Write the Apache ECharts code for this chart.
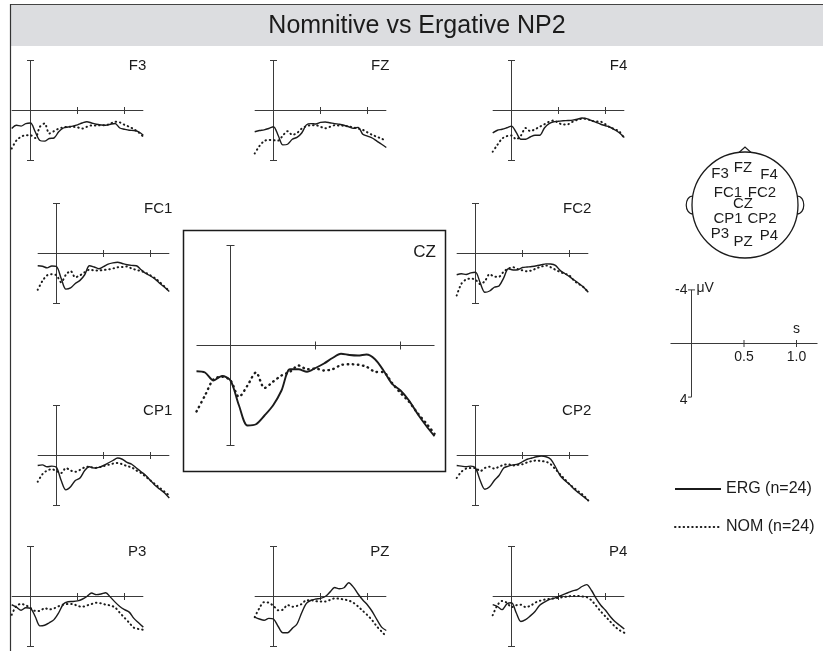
<!DOCTYPE html>
<html>
<head>
<meta charset="utf-8">
<script src="https://cdn.jsdelivr.net/npm/echarts@6/dist/echarts.min.js"></script>
<style>
  html, body { margin: 0; padding: 0; background: #fff; }
  #chart { width: 823px; height: 651px; }
</style>
</head>
<body>
<div id="chart"></div>
<script>
// ---- data: grand-average ERPs (µV), negative plotted up ----
const times = [-0.2, -0.15, -0.1, -0.05, 0, 0.05, 0.1, 0.15, 0.2, 0.25, 0.3, 0.35, 0.4, 0.45, 0.5,
               0.55, 0.6, 0.65, 0.7, 0.75, 0.8, 0.85, 0.9, 0.95, 1.0, 1.05, 1.1, 1.15, 1.2];

const ergF3  = [1.44, 1.18, 1.25, 1.05, 1.0, 1.7, 2.4, 2.45, 2.24, 2.2, 1.7, 1.4, 1.32, 1.25, 1.15, 1.0, 0.9, 1.0, 1.1, 1.15, 1.18, 1.1, 1.04, 1.4, 1.5, 1.58, 1.6, 1.7, 1.98];
const nomF3  = [3.04, 2.4, 2.1, 1.98, 1.98, 2.2, 1.3, 1.04, 1.84, 1.65, 1.45, 1.35, 1.3, 1.3, 1.35, 1.44, 1.3, 1.2, 1.2, 1.18, 1.18, 1.05, 0.9, 0.95, 1.15, 1.3, 1.5, 1.75, 2.1];
const ergFZ  = [1.7, 1.6, 1.55, 1.44, 1.3, 2.0, 2.75, 2.7, 2.3, 2.15, 1.8, 1.15, 1.05, 1.08, 0.95, 0.92, 0.98, 1.05, 1.1, 1.18, 1.3, 1.42, 1.35, 1.9, 2.05, 2.2, 2.45, 2.7, 2.96];
const nomFZ  = [3.44, 2.85, 2.45, 2.35, 2.38, 2.4, 2.0, 1.65, 1.95, 1.8, 1.45, 1.25, 1.18, 1.18, 1.3, 1.42, 1.3, 1.18, 1.2, 1.22, 1.28, 1.35, 1.45, 1.55, 1.75, 1.95, 2.1, 2.25, 2.43];
const ergF4  = [1.79, 1.58, 1.5, 1.38, 1.25, 1.75, 2.3, 2.3, 2.12, 1.98, 1.98, 1.4, 1.05, 0.9, 0.86, 0.82, 0.8, 0.77, 0.7, 0.6, 0.65, 0.8, 0.95, 1.1, 1.22, 1.34, 1.55, 1.8, 2.16];
const nomF4  = [3.3, 2.75, 2.25, 2.05, 2.0, 2.3, 2.0, 1.4, 1.65, 1.5, 1.3, 1.1, 0.9, 0.8, 1.0, 1.12, 1.1, 0.9, 0.75, 0.66, 0.68, 0.82, 0.88, 0.9, 1.1, 1.36, 1.5, 1.7, 2.24];
const ergFC1 = [0.98, 1.02, 1.15, 1.0, 1.04, 2.0, 2.85, 2.75, 2.4, 2.15, 1.7, 0.98, 1.08, 1.22, 1.05, 0.85, 0.75, 0.7, 0.8, 0.9, 0.95, 0.98, 1.3, 1.6, 1.8, 2.05, 2.4, 2.7, 3.04];
const nomFC1 = [2.9, 2.2, 1.75, 1.65, 1.75, 2.3, 1.7, 1.4, 1.9, 1.75, 1.5, 1.3, 1.35, 1.36, 1.32, 1.28, 1.2, 1.1, 1.08, 1.04, 1.2, 1.32, 1.4, 1.55, 1.75, 1.98, 2.3, 2.65, 3.0];
const ergFC2 = [1.7, 1.62, 1.68, 1.55, 1.5, 2.35, 3.1, 3.0, 2.7, 2.6, 1.95, 1.22, 1.32, 1.3, 1.12, 1.08, 1.04, 0.98, 0.9, 0.83, 0.84, 0.95, 1.35, 1.6, 1.85, 2.12, 2.4, 2.7, 3.1];
const nomFC2 = [3.36, 2.42, 2.08, 2.0, 2.1, 2.45, 2.2, 1.65, 1.85, 1.85, 1.45, 1.2, 1.1, 1.25, 1.35, 1.42, 1.35, 1.18, 1.05, 0.96, 1.1, 1.3, 1.48, 1.62, 1.76, 2.18, 2.45, 2.7, 3.1];
const ergCZ  = [1.03, 1.08, 1.4, 1.22, 1.4, 2.4, 3.2, 3.15, 2.8, 2.4, 1.8, 0.95, 0.95, 1.05, 0.9, 0.72, 0.5, 0.33, 0.38, 0.4, 0.36, 0.55, 1.0, 1.53, 1.8, 2.2, 2.73, 3.2, 3.63];
const nomCZ  = [2.64, 2.0, 1.35, 1.25, 1.4, 2.05, 1.6, 1.08, 1.7, 1.45, 1.2, 1.05, 0.8, 0.95, 0.92, 1.0, 0.95, 0.78, 0.75, 0.77, 0.85, 1.05, 1.07, 1.5, 1.9, 2.25, 2.7, 3.1, 3.53];
const ergCP1 = [0.8, 0.75, 0.9, 0.85, 0.95, 2.0, 2.75, 2.5, 2.0, 1.8, 1.2, 0.9, 1.0, 0.95, 0.8, 0.6, 0.4, 0.2, 0.3, 0.55, 0.7, 1.0, 1.3, 1.6, 2.0, 2.4, 2.7, 3.0, 3.4];
const nomCP1 = [2.1, 1.5, 1.2, 1.1, 1.25, 1.4, 1.0, 1.2, 1.3, 1.15, 0.95, 0.9, 1.0, 0.95, 0.85, 0.75, 0.65, 0.6, 0.7, 0.85, 0.95, 1.2, 1.4, 1.7, 2.0, 2.3, 2.6, 2.9, 3.2];
const ergCP2 = [0.8, 0.85, 0.9, 0.85, 1.0, 2.0, 2.7, 2.5, 2.0, 1.6, 1.0, 0.85, 0.75, 0.7, 0.5, 0.3, 0.2, 0.1, 0.05, 0.1, 0.3, 0.9, 1.6, 2.0, 2.3, 2.7, 3.0, 3.3, 3.6];
const nomCP2 = [1.8, 1.3, 1.05, 1.0, 1.0, 1.25, 1.0, 0.9, 1.05, 0.9, 0.75, 0.7, 0.8, 0.75, 0.7, 0.55, 0.45, 0.4, 0.45, 0.5, 0.7, 1.1, 1.5, 1.9, 2.3, 2.6, 2.9, 3.2, 3.6];
const ergP3  = [0.66, 0.85, 1.1, 0.9, 0.95, 1.6, 2.35, 2.3, 2.1, 1.85, 1.3, 0.6, 0.42, 0.4, 0.35, 0.22, 0.0, -0.28, -0.15, -0.2, -0.3, 0.05, 0.45, 0.8, 1.05, 1.25, 1.75, 2.1, 2.45];
const nomP3  = [1.46, 0.75, 0.6, 0.7, 0.92, 1.15, 1.15, 0.93, 1.03, 0.95, 0.78, 0.65, 0.6, 0.6, 0.75, 0.82, 0.72, 0.6, 0.5, 0.55, 0.65, 0.72, 0.88, 1.3, 1.7, 2.1, 2.5, 2.6, 2.66];
const ergPZ  = [1.65, 1.8, 1.9, 1.75, 1.8, 2.4, 2.9, 2.9, 2.55, 2.2, 1.3, 0.55, 0.3, 0.2, 0.15, 0.0, -0.35, -0.72, -0.62, -0.7, -1.1, -0.75, -0.2, 0.28, 0.68, 1.2, 1.85, 2.45, 2.72];
const nomPZ  = [1.65, 0.93, 0.45, 0.5, 0.75, 1.1, 1.05, 0.68, 0.82, 0.75, 0.6, 0.3, 0.3, 0.38, 0.4, 0.4, 0.28, 0.15, 0.18, 0.24, 0.32, 0.5, 0.8, 1.15, 1.5, 1.9, 2.4, 2.8, 3.2];
const ergP4  = [0.65, 0.8, 1.05, 0.6, 0.5, 1.3, 2.0, 1.85, 1.55, 1.2, 0.7, 0.45, 0.25, 0.15, 0.0, -0.15, -0.3, -0.45, -0.55, -0.8, -0.95, -0.5, 0.15, 0.7, 1.1, 1.6, 2.0, 2.3, 2.6];
const nomP4  = [1.5, 0.7, 0.35, 0.5, 0.85, 0.7, 0.65, 0.85, 0.75, 0.5, 0.35, 0.25, 0.2, 0.15, 0.1, 0.05, 0.0, -0.05, -0.05, 0.0, 0.05, 0.3, 0.75, 1.2, 1.6, 2.0, 2.4, 2.7, 2.9];

// axis extents and tick marks (s, µV)
const timeRange = [-0.2, 1.2];
const voltRange = [-4, 4];
const timeTicks = [0.5, 1.0];
const scaleTimeLabels = ['0.5', '1.0'];
const scaleVoltLabels = ['-4', '4'];

const titleText = 'Nomnitive vs Ergative NP2';
const ergName = 'ERG (n=24)';
const nomName = 'NOM (n=24)';
const headLabels = ['F3', 'FZ', 'F4', 'FC1', 'FC2', 'CZ', 'CP1', 'CP2', 'P3', 'PZ', 'P4'];

// ---- layout ----
const FONT = '"Liberation Sans", Arial, Helvetica, sans-serif';
const INK = '#1b1b1b';
const AXIS = '#3a3a3a';

// x0/y0: pixel position of (t = 0, v = 0); pxs: px per second; pxv: px per µV
const panels = [
  { name: 'F3',  erg: ergF3,  nom: nomF3,  x0: 30.5,  y0: 110.5, pxs: 94, pxv: 12.5 },
  { name: 'FZ',  erg: ergFZ,  nom: nomFZ,  x0: 273.5, y0: 110.5, pxs: 94, pxv: 12.5 },
  { name: 'F4',  erg: ergF4,  nom: nomF4,  x0: 511.5, y0: 110.5, pxs: 94, pxv: 12.5 },
  { name: 'FC1', erg: ergFC1, nom: nomFC1, x0: 56.5,  y0: 253.5, pxs: 94, pxv: 12.5 },
  { name: 'FC2', erg: ergFC2, nom: nomFC2, x0: 475.5, y0: 253.5, pxs: 94, pxv: 12.5 },
  { name: 'CP1', erg: ergCP1, nom: nomCP1, x0: 56.5,  y0: 455.5, pxs: 94, pxv: 12.5 },
  { name: 'CP2', erg: ergCP2, nom: nomCP2, x0: 475.5, y0: 455.5, pxs: 94, pxv: 12.5 },
  { name: 'P3',  erg: ergP3,  nom: nomP3,  x0: 30.5,  y0: 596.5, pxs: 94, pxv: 12.5 },
  { name: 'PZ',  erg: ergPZ,  nom: nomPZ,  x0: 273.5, y0: 596.5, pxs: 94, pxv: 12.5 },
  { name: 'P4',  erg: ergP4,  nom: nomP4,  x0: 511.5, y0: 596.5, pxs: 94, pxv: 12.5 },
  { name: 'CZ',  erg: ergCZ,  nom: nomCZ,  x0: 230.5, y0: 345.5, pxs: 170, pxv: 25, big: true }
];
const scaleBar = { x0: 691.5, y0: 343.5, pxs: 105, pxv: 13.4 };

function gridFor(p) {
  return {
    left: p.x0 + timeRange[0] * p.pxs,
    top: p.y0 + voltRange[0] * p.pxv,
    width: (timeRange[1] - timeRange[0]) * p.pxs,
    height: (voltRange[1] - voltRange[0]) * p.pxv,
    containLabel: false
  };
}

function axesRenderer(opts) {
  return function (params, api) {
    const st = { stroke: AXIS, lineWidth: 1, fill: null };
    const L = (x1, y1, x2, y2) => ({ type: 'line', shape: { x1, y1, x2, y2 }, style: st });
    const h0 = api.coord([timeRange[0], 0]);
    const h1 = api.coord([timeRange[1], 0]);
    const vT = api.coord([0, voltRange[0]]);
    const vB = api.coord([0, voltRange[1]]);
    const ch = [
      L(h0[0], h0[1], h1[0], h1[1]),
      L(vT[0], vT[1], vB[0], vB[1]),
      L(vT[0] - opts.cap, vT[1], vT[0] + opts.cap, vT[1]),
      L(vB[0] - opts.cap, vB[1], vB[0] + (opts.capRight ?? opts.cap), vB[1])
    ];
    timeTicks.forEach(t => {
      const p = api.coord([t, 0]);
      ch.push(L(p[0], p[1] - opts.tick, p[0], p[1] + opts.tick));
    });
    if (opts.labels) {
      const txt = (text, x, y, align, vAlign) => ({
        type: 'text', x, y,
        style: { text, font: '14px ' + FONT, fill: INK, align, verticalAlign: vAlign }
      });
      ch.push(txt(scaleVoltLabels[0], vT[0] - 4, vT[1], 'right', 'middle'));
      ch.push(txt('\u03BCV', vT[0] + 5, vT[1] - 2, 'left', 'middle'));
      ch.push(txt(scaleVoltLabels[1], vB[0] - 4, vB[1] + 3, 'right', 'middle'));
      timeTicks.forEach((t, i) => {
        const p = api.coord([t, 0]);
        ch.push(txt(scaleTimeLabels[i], p[0], p[1] + 14, 'center', 'middle'));
      });
      const pEnd = api.coord([timeTicks[timeTicks.length - 1], 0]);
      ch.push(txt('s', pEnd[0], pEnd[1] - 14, 'center', 'middle'));
    }
    return { type: 'group', children: ch };
  };
}

const grid = [], xAxis = [], yAxis = [], series = [];
panels.concat([scaleBar]).forEach((p, i) => {
  grid.push(gridFor(p));
  xAxis.push({ type: 'value', gridIndex: i, min: timeRange[0], max: timeRange[1], show: false });
  yAxis.push({ type: 'value', gridIndex: i, min: voltRange[0], max: voltRange[1], inverse: true, show: false });
});

panels.forEach((p, i) => {
  const big = !!p.big;
  series.push({
    type: 'custom', name: 'axes-' + p.name, xAxisIndex: i, yAxisIndex: i,
    data: [[0, 0]], clip: false, silent: true, z: 1,
    renderItem: axesRenderer({ tick: big ? 4 : 3.5, cap: big ? 4 : 3.5 })
  });
  series.push({
    type: 'line', name: nomName, xAxisIndex: i, yAxisIndex: i,
    data: times.map((t, k) => [t, p.nom[k]]),
    symbol: 'none', smooth: 0.3, silent: true, z: 2,
    itemStyle: { color: INK },
    lineStyle: { color: INK, width: big ? 2.4 : 2, type: big ? [0.5, 4.6] : [0.5, 3.8], cap: 'round' }
  });
  series.push({
    type: 'line', name: ergName, xAxisIndex: i, yAxisIndex: i,
    data: times.map((t, k) => [t, p.erg[k]]),
    symbol: 'none', smooth: 0.3, silent: true, z: 3,
    itemStyle: { color: INK },
    lineStyle: { color: INK, width: big ? 1.9 : 1.4, type: 'solid' }
  });
});

// calibration cross
const si = panels.length;
series.push({
  type: 'custom', name: 'scale', xAxisIndex: si, yAxisIndex: si,
  data: [[0, 0]], clip: false, silent: true,
  renderItem: axesRenderer({ tick: 3.5, cap: 3.5, capRight: 0, labels: true })
});

// ---- decorations: title bar, panel names, CZ frame, head map ----
const textStyle = (text, size, align) => ({
  text, font: size + 'px ' + FONT, fill: INK, textAlign: align, textVerticalAlign: 'middle'
});

const graphics = [
  { type: 'rect', shape: { x: 10, y: 4, width: 813, height: 42 }, style: { fill: '#dcdde0' }, z: 0 },
  { type: 'line', shape: { x1: 10, y1: 4.5, x2: 823, y2: 4.5 }, style: { stroke: '#444', lineWidth: 1.2 } },
  { type: 'line', shape: { x1: 10.5, y1: 4, x2: 10.5, y2: 651 }, style: { stroke: '#333', lineWidth: 1.2 } },
  { type: 'text', x: 417, y: 26, style: textStyle(titleText, 25, 'center') },
  { type: 'rect', shape: { x: 183.5, y: 230.5, width: 262, height: 241 },
    style: { fill: null, stroke: INK, lineWidth: 1.5 } }
];

panels.forEach(p => {
  const big = !!p.big;
  graphics.push({
    type: 'text',
    x: p.x0 + timeRange[1] * p.pxs + (big ? 1.5 : 3),
    y: p.y0 - (big ? 93 : 45),
    style: textStyle(p.name, big ? 17 : 15, 'right')
  });
});

// head outline with nose and ears
const hc = { x: 745, y: 205, r: 53 };
const earL = hc.x - hc.r, earR = hc.x + hc.r;
graphics.push(
  { type: 'circle', shape: { cx: hc.x, cy: hc.y, r: hc.r }, style: { fill: null, stroke: INK, lineWidth: 1.3 } },
  { type: 'polyline', shape: { points: [[hc.x - 6, hc.y - hc.r + 0.5], [hc.x, hc.y - hc.r - 5], [hc.x + 6, hc.y - hc.r + 0.5]] },
    style: { fill: null, stroke: INK, lineWidth: 1.2 } },
  { type: 'bezierCurve',
    shape: { x1: earL + 0.8, y1: hc.y - 9, cpx1: earL - 8, cpy1: hc.y - 9, cpx2: earL - 8, cpy2: hc.y + 9, x2: earL + 1, y2: hc.y + 9 },
    style: { fill: null, stroke: INK, lineWidth: 1.2 } },
  { type: 'bezierCurve',
    shape: { x1: earR - 0.8, y1: hc.y - 9, cpx1: earR + 8, cpy1: hc.y - 9, cpx2: earR + 8, cpy2: hc.y + 9, x2: earR - 1, y2: hc.y + 9 },
    style: { fill: null, stroke: INK, lineWidth: 1.2 } }
);
// electrode label offsets from head centre
const headOffsets = [[-25, -31], [-2, -37], [24, -30], [-17, -12], [17, -12], [-2, -1],
                     [-17, 14], [17, 14], [-25, 29], [-2, 37], [24, 31]];
headLabels.forEach((lab, i) => {
  graphics.push({
    type: 'text', x: hc.x + headOffsets[i][0], y: hc.y + headOffsets[i][1],
    style: textStyle(lab, 15, 'center')
  });
});

const chart = echarts.init(document.getElementById('chart'), null, { renderer: 'canvas' });
chart.setOption({
  animation: false,
  backgroundColor: '#ffffff',
  grid, xAxis, yAxis, series,
  legend: {
    data: [ergName, nomName],
    orient: 'vertical', left: 669, top: 476,
    itemWidth: 46, itemHeight: 16, itemGap: 22,
    selectedMode: false,
    itemStyle: { opacity: 0 },
    textStyle: { fontSize: 16, color: INK, fontFamily: FONT }
  },
  graphic: { elements: graphics }
});
</script>
</body>
</html>
